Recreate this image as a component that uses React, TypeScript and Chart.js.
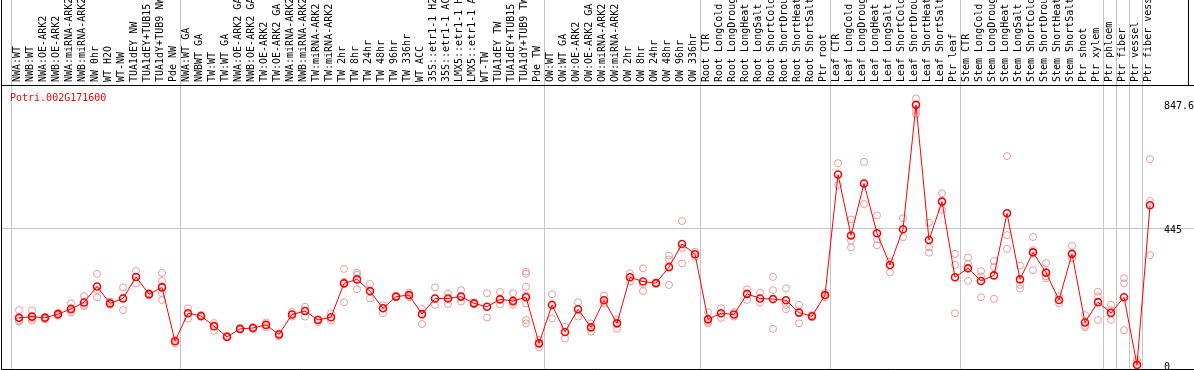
import { useEffect, useRef } from 'react';
import { Chart, registerables } from 'chart.js';

Chart.register(...registerables);

const title = 'Potri.002G171600';

const categories = [
  'NWA:WT', 'NWB:WT', 'NWA:OE-ARK2', 'NWB:OE-ARK2', 'NWA:miRNA-ARK2', 'NWB:miRNA-ARK2',
  'NW 0hr', 'WT H2O', 'WT-NW', 'TUA1dEY NW', 'TUA1dEY+TUB15 NW', 'TUA1dY+TUB9 NW', 'Pde NW',
  'NWA:WT GA', 'NWBWT GA', 'TW:WT', 'TW:WT GA', 'NWA:OE-ARK2 GA', 'NWB:OE-ARK2 GA',
  'TW:OE-ARK2', 'TW:OE-ARK2 GA', 'NWA:miRNA-ARK2 GA', 'NWB:miRNA-ARK2 GA', 'TW:miRNA-ARK2',
  'TW:miRNA-ARK2 GA', 'TW 2hr', 'TW 8hr', 'TW 24hr', 'TW 48hr', 'TW 96hr', 'TW 336hr',
  'WT ACC', '35S::etr1-1 H2O', '35S::etr1-1 ACC', 'LMX5::etr1-1 H2O', 'LMX5::etr1-1 ACC',
  'WT-TW', 'TUA1dEY TW', 'TUA1dEY+TUB15 TW', 'TUA1dY+TUB9 TW', 'Pde TW',
  'OW:WT', 'OW:WT GA', 'OW:OE-ARK2', 'OW:OE-ARK2 GA', 'OW:miRNA-ARK2', 'OW:miRNA-ARK2 GA',
  'OW 2hr', 'OW 8hr', 'OW 24hr', 'OW 48hr', 'OW 96hr', 'OW 336hr',
  'Root CTR', 'Root LongCold', 'Root LongDrought', 'Root LongHeat', 'Root LongSalt',
  'Root ShortCold', 'Root ShortDrought', 'Root ShortHeat', 'Root ShortSalt', 'Ptr root',
  'Leaf CTR', 'Leaf LongCold', 'Leaf LongDrought', 'Leaf LongHeat', 'Leaf LongSalt',
  'Leaf ShortCold', 'Leaf ShortDrought', 'Leaf ShortHeat', 'Leaf ShortSalt', 'Ptr leaf',
  'Stem CTR', 'Stem LongCold', 'Stem LongDrought', 'Stem LongHeat', 'Stem LongSalt',
  'Stem ShortCold', 'Stem ShortDrought', 'Stem ShortHeat', 'Stem ShortSalt',
  'Ptr shoot', 'Ptr xylem', 'Ptr phloem', 'Ptr fiber', 'Ptr vessel', 'Ptr fiber vessel',
];

const means = [
  155, 159, 155, 167, 184, 205, 257, 202, 218, 288, 232, 254, 79,
  170, 161, 128, 93, 119, 122, 132, 101, 166, 177, 148, 157, 267, 280, 242, 186, 224, 229,
  167, 218, 218, 224, 202, 191, 215, 210, 222, 72,
  197, 109, 183, 124, 212, 137, 287, 273, 268, 320, 395, 362,
  150, 170, 166, 233, 218, 216, 212, 172, 160, 229,
  621, 423, 592, 430, 327, 443, 847.6, 408, 533, 287,
  316, 275, 293, 495, 280, 368, 302, 213, 363,
  140, 206, 171, 222, 2, 521,
];

const replicates = [
  [180, 146, 143], [180, 146, 152], [150, 158, 157], [172, 162, 168], [202, 172, 178],
  [226, 197, 193], [298, 245, 222], [208, 197], [254, 180, 220], [307, 267], [236, 228],
  [301, 275, 258, 235, 213], [84, 72],
  [186, 152], [164, 158], [138, 113], [93, 97], [121, 117], [125, 119], [140, 124],
  [104, 95], [174, 159], [191, 159], [141, 150], [170, 146], [314, 272, 206],
  [302, 295, 248], [265, 218], [196, 170], [226, 222], [237, 222],
  [184, 135], [254, 197], [234, 200], [245, 208], [205, 199], [235, 156], [239, 199],
  [235, 205, 197], [305, 298, 256, 228, 202, 148, 137], [84, 59],
  [232, 153], [126, 88], [206, 159], [137, 110], [227, 203], [150, 120], [300, 273],
  [316, 264, 242], [270, 266], [357, 345, 262], [470, 382, 332], [370, 354],
  [173, 142, 137], [186, 155], [174, 159], [248, 213], [237, 205], [288, 245, 119],
  [251, 197, 183], [197, 137], [164, 157], [237, 222],
  [658, 587], [475, 406, 384], [662, 525], [488, 410, 391], [338, 303], [479, 417],
  [869, 831, 818], [464, 384, 367], [560, 506], [363, 327, 170],
  [351, 330, 275], [307, 290, 222], [340, 320, 217], [681, 424, 379], [325, 262, 250],
  [418, 375, 310], [333, 290, 284], [226, 202], [389, 349],
  [164, 129, 124], [240, 225, 148], [197, 180, 148], [284, 267, 115], [18, 10],
  [671, 535, 359],
];

const yTickValues = [0, 445, 847.6];
const yGridValues = [445];
const groupStarts = [0, 13, 41, 53, 63, 73, 84, 85, 86, 87, 88];

const FONT = '"DejaVu Sans Mono", monospace';

export default function App() {
  const ref = useRef<HTMLCanvasElement | null>(null);

  useEffect(() => {
    document.body.style.margin = '0';
    const canvas = ref.current;
    if (!canvas) return;

    const meanPoints = means.map((v, i) => ({ x: i, y: v }));
    const repPoints = replicates.flatMap((r, i) => r.map((v) => ({ x: i, y: v })));

    const framePlugin = {
      id: 'frame',
      afterDraw(chart: any) {
        const { ctx, chartArea } = chart;
        const { top, bottom, left, right } = chartArea;
        ctx.save();
        ctx.strokeStyle = '#000';
        ctx.lineWidth = 1;
        ctx.beginPath();
        ctx.moveTo(left + 0.5, 0);
        ctx.lineTo(left + 0.5, bottom + 0.5);
        ctx.lineTo(right, bottom + 0.5);
        ctx.moveTo(right - 5.5, 0);
        ctx.lineTo(right - 5.5, top);
        ctx.stroke();
        ctx.fillStyle = '#ff0000';
        ctx.font = '10px ' + FONT;
        ctx.textBaseline = 'top';
        ctx.textAlign = 'left';
        ctx.fillText(title, left + 9, top + 8);
        ctx.restore();
      },
    };

    const chart = new Chart(canvas, {
      type: 'line',
      data: {
        datasets: [
          {
            label: 'mean',
            data: meanPoints,
            borderColor: '#ff0000',
            borderWidth: 1,
            pointRadius: 3.5,
            pointBorderWidth: 1.6,
            pointBorderColor: '#ff0000',
            pointBackgroundColor: 'rgba(0,0,0,0)',
            showLine: true,
            clip: false,
            order: 0,
          },
          {
            label: 'replicates',
            data: repPoints,
            showLine: false,
            pointRadius: 3.5,
            pointBorderWidth: 1,
            pointBorderColor: '#ee9a9a',
            pointBackgroundColor: 'rgba(0,0,0,0)',
            clip: false,
            order: 1,
          },
        ],
      },
      options: {
        responsive: false,
        animation: false,
        events: [],
        layout: { autoPadding: false, padding: { left: 1, right: 0, top: 0, bottom: 1 } },
        plugins: {
          legend: { display: false },
          tooltip: { enabled: false },
          title: { display: false },
        },
        scales: {
          x: {
            type: 'linear',
            position: 'top',
            min: -18 / 13,
            max: -18 / 13 + 1193 / 13,
            afterBuildTicks: (scale: any) => {
              scale.ticks = categories.map((_, i) => ({ value: i - 0.115 }));
            },
            afterFit: (scale: any) => {
              scale.height = 85;
              scale.paddingLeft = 0;
              scale.paddingRight = 0;
            },
            ticks: {
              autoSkip: false,
              minRotation: 90,
              maxRotation: 90,
              padding: -82,
              labelOffset: 12,
              color: '#000',
              font: { family: FONT, size: 10 },
              callback: (value: any) => categories[Math.round(Number(value))] ?? '',
            },
            grid: {
              offset: true,
              drawTicks: true,
              tickLength: 85,
              lineWidth: 1,
              color: (c: any) => (groupStarts.includes(c.index) ? '#c4c4c4' : 'rgba(0,0,0,0)'),
              tickColor: (c: any) => (groupStarts.includes(c.index) ? '#c4c4c4' : 'rgba(0,0,0,0)'),
            },
            border: { display: true, color: '#000', width: 1 },
          },
          y: {
            type: 'linear',
            position: 'right',
            min: -11.4,
            max: 912.2,
            afterBuildTicks: (scale: any) => {
              scale.ticks = yTickValues.map((v) => ({ value: v }));
            },
            afterFit: (scale: any) => {
              scale.width = 0;
              scale.paddingTop = 0;
              scale.paddingBottom = 0;
            },
            ticks: {
              mirror: true,
              crossAlign: 'far',
              padding: 0,
              labelOffset: 2,
              color: '#000',
              font: { family: FONT, size: 10 },
              callback: (value: any) => String(value),
            },
            grid: {
              drawTicks: false,
              color: (c: any) => (c.tick && yGridValues.includes(c.tick.value) ? '#c4c4c4' : 'rgba(0,0,0,0)'),
            },
            border: { display: false },
          },
        },
      },
      plugins: [framePlugin],
    });

    return () => chart.destroy();
  }, []);

  return (
    <div style={{ width: 1194, height: 370 }}>
      <canvas ref={ref} width={1194} height={370} style={{ display: 'block' }} />
    </div>
  );
}
